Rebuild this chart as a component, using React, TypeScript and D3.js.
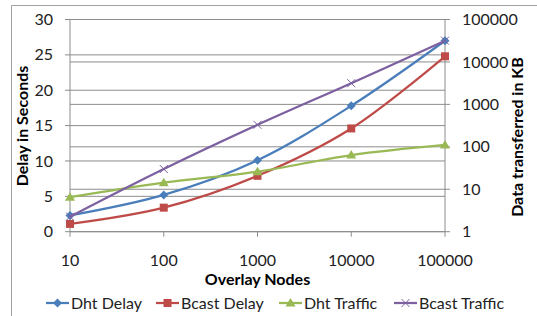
import React from 'react'
import * as d3 from 'd3'

const categories = ['10', '100', '1000', '10000', '100000']
const dhtDelay = [2.3, 5.2, 10.1, 17.8, 27.0]
const bcastDelay = [1.1, 3.4, 7.9, 14.6, 24.8]
const dhtTraffic = [6.5, 14.3, 26, 64, 111]
const bcastTraffic = [2.26, 30, 330, 3160, 31600]
const leftTicks = [0, 5, 10, 15, 20, 25, 30]
const rightTicks = [1, 10, 100, 1000, 10000, 100000]

const FONT = 'Lato, "Open Sans", sans-serif'

function Marker ({ kind, x, y, color }: { kind: string, x: number, y: number, color: string }) {
  if (kind === 'diamond') {
    return <path d={`M${x},${y - 4.5}L${x + 4.5},${y}L${x},${y + 4.5}L${x - 4.5},${y}Z`} fill={color} />
  }
  if (kind === 'square') {
    return <rect x={x - 4} y={y - 4} width={8} height={8} fill={color} />
  }
  if (kind === 'triangle') {
    return <path d={`M${x},${y - 5}L${x + 5},${y + 3.5}L${x - 5},${y + 3.5}Z`} fill={color} />
  }
  return <path d={`M${x - 4},${y - 4}L${x + 4},${y + 4}M${x - 4},${y + 4}L${x + 4},${y - 4}`} stroke={color} strokeWidth={1} />
}

export default function App () {
  const width = 537
  const height = 316
  const left = 70
  const right = 445
  const top = 19.5
  const bottom = 231.7

  const x = d3.scalePoint<string>().domain(categories).range([left, right])
  const yL = d3.scaleLinear().domain([0, 30]).range([bottom, top])
  const yR = d3.scaleLog().domain([1, 100000]).range([bottom, top])

  const series = [
    { name: 'Dht Delay', values: dhtDelay, scale: yL, color: '#4A7EBB', marker: 'diamond' },
    { name: 'Bcast Delay', values: bcastDelay, scale: yL, color: '#BE4B48', marker: 'square' },
    { name: 'Dht Traffic', values: dhtTraffic, scale: yR, color: '#98B954', marker: 'triangle' },
    { name: 'Bcast Traffic', values: bcastTraffic, scale: yR, color: '#7D60A0', marker: 'x' }
  ]

  const legendX = [46, 156, 279, 394]
  const grid = '#8c8c8c'

  return (
    <svg width={width} height={height} style={{ position: 'absolute', left: 0, top: 0 }}>
      <rect x={0} y={0} width={width} height={height} fill='#fff' />
      <path d={`M11.5,${height}V5.5H${width}`} fill='none' stroke='#a0a0a0' />
      {leftTicks.map(t => (
        <g key={'l' + t}>
          <line x1={left - 5} x2={right} y1={yL(t)} y2={yL(t)} stroke={grid} strokeWidth={1} />
          <text x={53} y={yL(t)} dy='0.35em' textAnchor='end' fontFamily={FONT} fontSize={16} fill='#222'>{t}</text>
        </g>
      ))}
      {rightTicks.map(t => (
        <g key={'r' + t}>
          <line x1={left} x2={right + 5} y1={yR(t)} y2={yR(t)} stroke={grid} strokeWidth={1} />
          <text x={462} y={yR(t)} dy='0.35em' textAnchor='start' fontFamily={FONT} fontSize={16} fill='#222'>{t}</text>
        </g>
      ))}
      <line x1={left} x2={left} y1={top} y2={bottom} stroke={grid} />
      <line x1={right} x2={right} y1={top} y2={bottom} stroke={grid} />
      {categories.map(c => (
        <g key={c}>
          <line x1={x(c)} x2={x(c)} y1={bottom} y2={bottom + 5} stroke={grid} />
          <text x={x(c)} y={260} dy='0.35em' textAnchor='middle' fontFamily={FONT} fontSize={16} fill='#222'>{c}</text>
        </g>
      ))}
      {series.map(s => {
        const line = d3.line<number>()
          .x((_, i) => x(categories[i]) as number)
          .y(v => s.scale(v))
          .curve(d3.curveCatmullRom.alpha(0.5))
        return (
          <g key={s.name}>
            <path d={line(s.values) || ''} fill='none' stroke={s.color} strokeWidth={2.25} />
            {s.values.map((v, i) => (
              <Marker key={i} kind={s.marker} x={x(categories[i]) as number} y={s.scale(v)} color={s.color} />
            ))}
          </g>
        )
      })}
      <text x={(left + right) / 2} y={279} dy='0.35em' textAnchor='middle' fontFamily={FONT} fontSize={16} fontWeight='bold' fill='#000'>Overlay Nodes</text>
      <text transform={`translate(22,126) rotate(-90)`} dy='0.35em' textAnchor='middle' fontFamily={FONT} fontSize={16} fontWeight='bold' fill='#000'>Delay in Seconds</text>
      <text transform={`translate(517,137) rotate(-90)`} dy='0.35em' textAnchor='middle' fontFamily={FONT} fontSize={16} fontWeight='bold' fill='#000'>Data transferred in KB</text>
      {series.map((s, i) => (
        <g key={'lg' + s.name}>
          <line x1={legendX[i]} x2={legendX[i] + 23} y1={303} y2={303} stroke={s.color} strokeWidth={2.25} />
          <Marker kind={s.marker} x={legendX[i] + 11.5} y={303} color={s.color} />
          <text x={legendX[i] + 25} y={303} dy='0.35em' fontFamily={FONT} fontSize={16} fill='#222'>{s.name}</text>
        </g>
      ))}
    </svg>
  )
}
